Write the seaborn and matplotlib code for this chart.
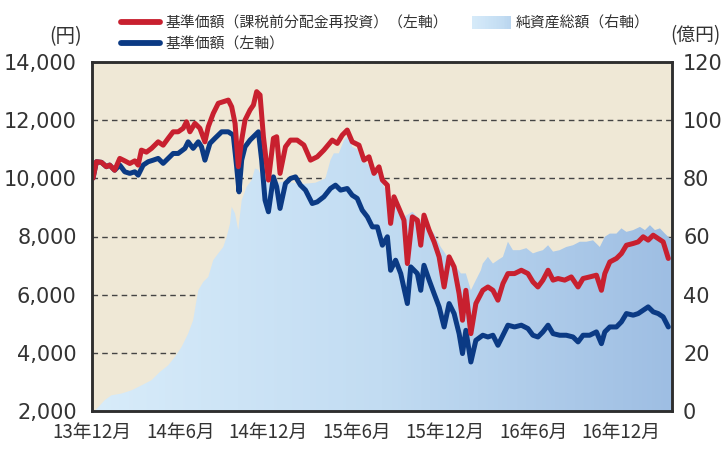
import numpy as np
import pandas as pd
import matplotlib
matplotlib.use("Agg")
import matplotlib.pyplot as plt
import seaborn as sns
from matplotlib.colors import LinearSegmentedColormap
from matplotlib.lines import Line2D
from matplotlib.patches import Patch, Rectangle
from matplotlib.legend_handler import HandlerBase

# x positions: months elapsed since December 2013
red_m = [0.07,0.30,0.64,0.98,1.20,1.54,1.89,2.23,2.57,2.91,
         3.14,3.36,3.70,4.05,4.50,4.84,5.18,5.52,5.86,6.20,
         6.43,6.66,7.00,7.34,7.68,7.91,8.25,8.59,8.93,9.27,
         9.50,9.73,9.95,10.18,10.41,10.75,10.98,11.20,11.43,11.66,
         12.00,12.34,12.56,12.79,13.16,13.50,13.95,14.41,14.86,15.32,
         15.77,16.34,16.68,17.02,17.36,17.70,18.16,18.50,18.84,19.18,
         19.52,19.75,20.09,20.31,20.54,20.88,21.22,21.45,21.79,22.13,
         22.36,22.58,22.93,23.27,23.61,23.95,24.29,24.63,24.97,25.20,
         25.43,25.77,26.11,26.58,26.93,27.27,27.61,27.95,28.29,28.74,
         29.20,29.65,29.99,30.33,30.67,31.02,31.36,31.70,32.15,32.60,
         33.06,33.40,33.85,34.31,34.65,34.88,35.22,35.67,36.01,36.35,
         36.81,37.15,37.49,37.83,38.17,38.51,38.85,39.20]
red_v = [10007,10570,10550,10400,10455,10280,10685,10600,10510,10600,
         10455,10970,10900,11030,11255,11140,11375,11600,11600,11720,
         11945,11600,11890,11720,11255,11775,12235,12580,12635,12690,
         12460,11890,10400,11315,12005,12350,12520,12980,12865,11430,
         9940,11375,11430,10170,11085,11315,11315,11145,10625,10740,
         10970,11315,11200,11485,11660,11255,11140,10625,10740,10170,
         10395,9940,9765,8450,9365,8965,8560,7070,8675,8560,
         7700,8735,8220,7815,7300,6265,7300,6955,6035,5120,
         6150,4660,5695,6150,6265,6150,5810,6380,6725,6725,
         6840,6725,6440,6265,6500,6840,6500,6555,6500,6610,
         6265,6555,6610,6670,6150,6725,7125,7245,7415,7700,
         7760,7815,7990,7875,8045,7930,7815,7245]

blue_m = [0.07,0.30,0.64,0.98,1.20,1.54,1.89,2.23,2.57,2.91,
          3.14,3.48,3.82,4.16,4.50,4.84,5.18,5.52,5.86,6.32,
          6.54,6.88,7.23,7.45,7.68,8.02,8.36,8.82,9.27,9.61,
          9.84,10.00,10.18,10.41,10.75,11.09,11.32,11.54,11.77,12.00,
          12.34,12.56,12.79,13.16,13.50,13.84,14.18,14.52,14.98,15.32,
          15.77,16.22,16.56,16.91,17.36,17.70,18.04,18.38,18.73,19.07,
          19.41,19.75,20.09,20.31,20.65,21.00,21.45,21.68,22.13,22.36,
          22.58,22.93,23.27,23.61,23.95,24.29,24.63,24.97,25.20,25.43,
          25.77,26.11,26.58,26.93,27.27,27.61,27.95,28.29,28.74,29.20,
          29.65,29.99,30.33,30.67,31.02,31.36,31.81,32.26,32.72,33.06,
          33.40,33.85,34.31,34.65,34.88,35.22,35.67,36.01,36.35,36.81,
          37.15,37.49,37.83,38.17,38.51,38.85,39.20]
blue_v = [10007,10570,10550,10400,10455,10280,10455,10225,10170,10225,
          10110,10455,10570,10625,10685,10515,10685,10855,10855,11030,
          11255,11030,11255,11085,10625,11200,11375,11600,11600,11485,
          10395,9535,10625,11085,11315,11485,11600,10625,9250,8850,
          10050,9710,8965,9825,9995,10050,9765,9595,9135,9190,
          9365,9650,9765,9595,9650,9420,9310,8905,8675,8330,
          8330,7700,7990,6840,7185,6725,5695,6955,6725,6150,
          7010,6500,6035,5580,4890,5695,5350,4660,3975,4775,
          3685,4430,4605,4545,4605,4260,4605,4950,4890,4950,
          4835,4605,4545,4720,4950,4660,4605,4605,4545,4375,
          4605,4605,4720,4315,4720,4890,4890,5065,5350,5295,
          5350,5465,5580,5410,5350,5235,4890]

nav_m = [0.18,0.86,1.32,2.00,2.68,3.36,4.05,4.61,5.18,5.64,
         6.09,6.54,6.88,7.11,7.23,7.57,7.91,8.25,8.59,8.93,
         9.16,9.39,9.50,9.73,9.95,10.18,10.52,10.86,11.09,11.32,
         11.54,12.13,13.16,14.18,15.20,15.88,16.22,16.45,16.79,17.13,
         17.47,17.70,18.04,18.38,18.95,19.41,19.86,20.31,20.77,21.22,
         21.79,22.36,22.81,23.27,23.72,24.18,24.63,25.09,25.43,25.77,
         26.11,26.45,26.58,26.93,27.27,27.61,27.95,28.29,28.63,29.09,
         29.54,29.99,30.33,30.67,31.02,31.36,31.81,32.26,32.72,33.18,
         33.63,34.08,34.54,34.88,35.22,35.67,36.01,36.35,36.81,37.27,
         37.61,37.95,38.29,38.63,38.97,39.32,39.45]
nav_v = [0,3.7,5.4,6.0,7.1,8.8,10.6,13.4,15.7,18.6,
         22.0,26.6,31.2,38.1,41.5,44.4,46.1,51.9,54.2,56.4,
         59.9,64.5,70.2,67.9,62.2,72.5,77.1,79.4,83.4,83.0,
         80.5,78.0,79.0,78.0,78.5,80.0,86.3,88.6,88.6,93.1,
         94.9,90.8,90.0,86.3,84.0,81.7,77.1,73.6,70.2,66.8,
         68.5,65.6,63.3,61.0,56.4,53.0,50.7,47.3,47.3,41.5,
         45.0,48.4,50.7,53.0,50.7,51.9,53.0,58.2,55.3,55.3,
         56.0,54.2,54.8,55.3,57.0,54.8,55.3,56.4,57.0,58.2,
         58.2,58.7,56.4,59.9,61.0,61.0,62.8,61.6,62.2,63.3,
         62.2,63.9,62.2,62.8,61.0,59.3,59.5]

tick_m = [0, 6, 12, 18, 24, 30, 36]
tick_labels = ["13年12月", "14年6月", "14年12月", "15年6月", "15年12月", "16年6月", "16年12月"]
left_ticks = [2000, 4000, 6000, 8000, 10000, 12000, 14000]
right_ticks = [0, 20, 40, 60, 80, 100, 120]

label_red = "基準価額（課税前分配金再投資）（左軸）"
label_blue = "基準価額（左軸）"
label_nav = "純資産総額（右軸）"

RED = "#c8202f"
BLUE = "#0b3a84"
BEIGE = "#efe8d6"
TXT = "#333333"

sns.set_theme(style="white")
plt.rcParams["font.family"] = ["DejaVu Sans", "Noto Sans CJK JP"]

cmap = LinearSegmentedColormap.from_list("g", ["#d8ecfa", "#c2dcf2", "#9ebee3"])


class GradientHandler(HandlerBase):
    def create_artists(self, legend, orig_handle, xdescent, ydescent,
                       width, height, fontsize, trans):
        n = 24
        arts = []
        for i in range(n):
            r = Rectangle((-xdescent + width * i / n, -ydescent - 1), width / n + 0.3, height + 2,
                          facecolor=cmap(0.05 + 0.55 * i / (n - 1)), edgecolor="none",
                          transform=trans)
            arts.append(r)
        return arts


fig = plt.figure(figsize=(7.23, 4.5), dpi=100)
ax = fig.add_axes([92/723, 1-411/450, (672-92)/723, (411-62)/450])
ax2 = ax.twinx()
ax.set_zorder(2)
ax2.set_zorder(1)
ax.patch.set_visible(False)
ax2.patch.set_visible(True)
ax2.patch.set_facecolor(BEIGE)

xmax = 39.45
# --- area on right axis with horizontal gradient
nav_df = pd.DataFrame({"m": nav_m, "v": nav_v})
poly = ax2.fill_between(nav_df["m"], 0, nav_df["v"], facecolor="none", edgecolor="none", zorder=1)
grad = np.linspace(0, 1, 256).reshape(1, -1)
im = ax2.imshow(grad, extent=[0, xmax, 0, 120], aspect="auto", cmap=cmap, zorder=1,
                interpolation="bilinear")
im.set_clip_path(poly.get_paths()[0], poly.get_transform())
ax2.set_ylim(0, 120)
ax2.set_yticks(right_ticks)
ax2.set_axisbelow(True)
ax2.yaxis.grid(True, linestyle=(0, (4, 3)), color="#444444", linewidth=1.0)
ax2.xaxis.grid(False)

# --- lines on left axis
blue_df = pd.DataFrame({"m": blue_m, "v": blue_v})
red_df = pd.DataFrame({"m": red_m, "v": red_v})
sns.lineplot(data=blue_df, x="m", y="v", ax=ax, color=BLUE, linewidth=3.6, sort=False)
sns.lineplot(data=red_df, x="m", y="v", ax=ax, color=RED, linewidth=3.6, sort=False)

ax.set_xlim(0, xmax)
ax2.set_xlim(0, xmax)
ax.set_ylim(2000, 14000)
ax.set_yticks(left_ticks)
ax.set_yticklabels([f"{t:,}" for t in left_ticks])
ax.set_xticks(tick_m)
ax.set_xticklabels(tick_labels, fontfamily="Noto Sans CJK JP", fontsize=13.5)
ax.set_xlabel("")
ax.set_ylabel("")
ax.grid(False)

ax.tick_params(axis="x", direction="in", length=5, width=1.2, color=TXT, pad=8, labelcolor=TXT)
ax.tick_params(axis="y", length=0, pad=11, labelsize=15, labelcolor=TXT)
ax2.tick_params(axis="y", length=0, pad=8, labelsize=15, labelcolor=TXT)

for a in (ax, ax2):
    for s in a.spines.values():
        s.set_color("#2e2e2e")
        s.set_linewidth(1.8)

fig.text(66/723, 1-37/450, "(円)", ha="center", va="center", fontsize=14,
         color=TXT, family=["Noto Sans CJK JP"])
fig.text(721/723, 1-36/450, "(億円)", ha="right", va="center", fontsize=13.5,
         color=TXT, family=["Noto Sans CJK JP"])

handles = [Line2D([], [], color=RED, linewidth=4.2),
           Line2D([], [], color=BLUE, linewidth=4.2),
           Patch(facecolor="#bcd7f0", edgecolor="none")]
fig.legend(handles, [label_red, label_blue, label_nav], ncol=2,
           loc="upper left", bbox_to_anchor=(114/723, 1-9/450), frameon=False,
           borderpad=0, handlelength=2.6, handletextpad=0.35, columnspacing=1.6,
           labelspacing=0.45, prop={"family": "Noto Sans CJK JP", "size": 10.7},
           labelcolor=TXT, handler_map={Patch: GradientHandler()})

fig.savefig("out.png", dpi=100)
